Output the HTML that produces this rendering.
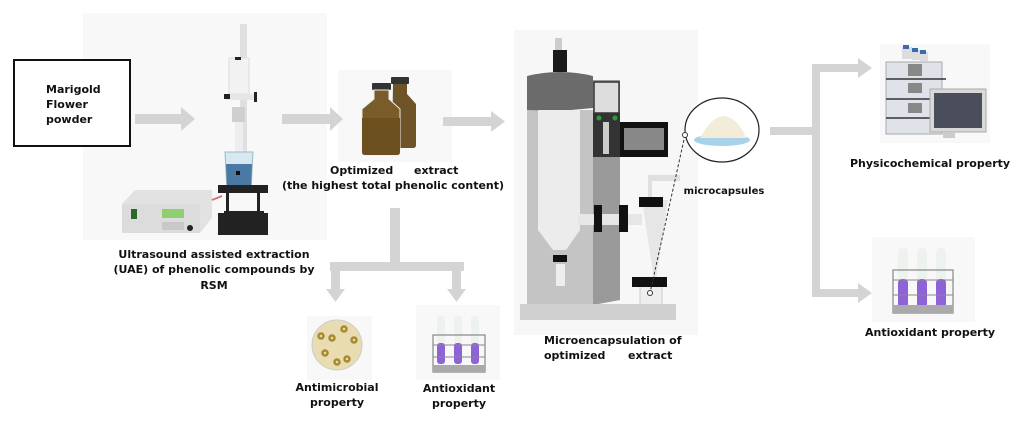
<!DOCTYPE html>
<html><head><meta charset="utf-8"><style>
html,body{margin:0;padding:0;background:#fff;}
svg{display:block;}
text{font-family:"DejaVu Sans","Liberation Sans",sans-serif;font-weight:bold;fill:#111;}
</style></head><body>
<svg width="1024" height="439" viewBox="0 0 1024 439" xmlns="http://www.w3.org/2000/svg">
<rect width="1024" height="439" fill="#fff"/>
<!-- panels -->
<rect x="83" y="13" width="244" height="227" fill="#f8f8f8"/>
<rect x="338" y="70" width="114" height="92" fill="#f8f8f8"/>
<rect x="514" y="30" width="184" height="305" fill="#f7f7f7"/>
<rect x="880" y="44" width="110" height="99" fill="#f8f8f8"/>
<rect x="872" y="237" width="103" height="85" fill="#f8f8f8"/>
<rect x="307" y="316" width="65" height="64" fill="#f8f8f8"/>
<rect x="416" y="305" width="84" height="75" fill="#f8f8f8"/>

<!-- box -->
<rect x="14" y="60" width="116" height="86" fill="#fff" stroke="#111" stroke-width="2"/>
<text x="46" y="93" font-size="11">Marigold</text>
<text x="46" y="108" font-size="11">Flower</text>
<text x="46" y="123" font-size="11">powder</text>

<!-- arrows -->
<g fill="#d4d4d4">
<path d="M135 114H181V107L195 119L181 131V124H135Z"/>
<path d="M282 114H330V107L343 119L330 131V124H282Z"/>
<path d="M443 117H491V111L505 121.5L491 132V126H443Z"/>
<rect x="390" y="208" width="10" height="60"/>
<rect x="330" y="262" width="134" height="9"/>
<rect x="331" y="262" width="9" height="30"/>
<path d="M326 289H345L335.5 302Z"/>
<rect x="452" y="262" width="9" height="30"/>
<path d="M447 289H466L456.5 302Z"/>
<rect x="770" y="127" width="48" height="8"/>
<rect x="812" y="64" width="8" height="233"/>
<rect x="812" y="64" width="48" height="8"/>
<path d="M858 58L872 68L858 78Z"/>
<rect x="812" y="289" width="48" height="8"/>
<path d="M858 283L872 293L858 303Z"/>
</g>

<!-- ultrasound -->
<rect x="240" y="24" width="7" height="130" fill="#e0e0e0"/>
<rect x="229" y="58" width="20" height="36" fill="#f2f2f2" stroke="#ddd"/>
<rect x="235" y="57" width="6" height="3" fill="#222"/>
<rect x="226" y="94" width="28" height="6" fill="#e6e6e6"/>
<rect x="224" y="94" width="6" height="5" fill="#222"/>
<rect x="254" y="92" width="3" height="10" fill="#222"/>
<rect x="232" y="107" width="13" height="15" fill="#cfcfcf"/>
<rect x="235" y="122" width="8" height="50" fill="#eee"/>
<path d="M225 152H253L251 190H227Z" fill="#d8e8f2" stroke="#9bb" stroke-width="1"/>
<path d="M226 164H252L251 189H227Z" fill="#4b79a6"/>
<rect x="236" y="171" width="4" height="4" fill="#111"/>
<rect x="218" y="185" width="50" height="8" fill="#222"/>
<rect x="226" y="193" width="3" height="20" fill="#222"/><rect x="257" y="193" width="3" height="20" fill="#222"/>
<rect x="224" y="211" width="40" height="3" fill="#222"/>
<rect x="218" y="213" width="50" height="22" fill="#222"/>
<path d="M122 204L135 190H212V218L200 233H122Z" fill="#e2e2e2"/>
<rect x="122" y="204" width="78" height="29" fill="#dcdcdc"/>
<rect x="131" y="209" width="6" height="10" fill="#2a6a2a"/>
<rect x="162" y="209" width="22" height="9" fill="#8fcf6f"/>
<rect x="162" y="222" width="22" height="8" fill="#c8c8c8"/>
<circle cx="190" cy="228" r="3" fill="#222"/>
<path d="M212 200L222 196" stroke="#c77" stroke-width="2"/>
<text x="214" y="258" font-size="11" text-anchor="middle">Ultrasound assisted extraction</text>
<text x="214" y="273" font-size="11" text-anchor="middle">(UAE) of phenolic compounds by</text>
<text x="214" y="289" font-size="11" text-anchor="middle">RSM</text>

<!-- bottles -->
<rect x="391" y="77" width="18" height="7" rx="1" fill="#333"/>
<path d="M393 84H407V94L416 104V145Q416 148 413 148H392Z" fill="#6e5426"/>
<rect x="372" y="83" width="19" height="7" rx="1" fill="#333"/>
<path d="M374 90H389V99L400 109V152Q400 155 397 155H365Q362 155 362 152V109L374 99Z" fill="#7a5b2a" stroke="#eee" stroke-width="1"/>
<path d="M362 118H400V152Q400 155 397 155H365Q362 155 362 152Z" fill="#6d5020"/>
<text x="330" y="174" font-size="11">Optimized</text>
<text x="414" y="174" font-size="11">extract</text>
<text x="393" y="189" font-size="11" text-anchor="middle">(the highest total phenolic content)</text>

<!-- petri -->
<circle cx="337" cy="345" r="25" fill="#e8dcb0" stroke="#ccc"/>
<g fill="none" stroke="#a88a30" stroke-width="2.5">
<circle cx="321" cy="336" r="2.5"/><circle cx="332" cy="338" r="2.5"/><circle cx="344" cy="329" r="2.5"/>
<circle cx="354" cy="340" r="2.5"/><circle cx="325" cy="353" r="2.5"/><circle cx="337" cy="362" r="2.5"/><circle cx="347" cy="359" r="2.5"/>
</g>
<text x="337" y="391" font-size="11" text-anchor="middle">Antimicrobial</text>
<text x="337" y="406" font-size="11" text-anchor="middle">property</text>

<!-- tubes small -->
<g>
<rect x="437" y="316" width="8" height="48" rx="3" fill="#eef2ee"/><rect x="454" y="316" width="8" height="48" rx="3" fill="#eef2ee"/><rect x="471" y="316" width="8" height="48" rx="3" fill="#eef2ee"/>
<rect x="437" y="343" width="8" height="21" rx="3" fill="#8e62d8"/><rect x="454" y="343" width="8" height="21" rx="3" fill="#8e62d8"/><rect x="471" y="343" width="8" height="21" rx="3" fill="#8e62d8"/>
<rect x="433" y="335" width="52" height="37" fill="none" stroke="#888" stroke-width="1.2"/>
<path d="M433 345H485M433 357H485" stroke="#888"/>
<rect x="433" y="365" width="52" height="7" fill="#aaa"/>
</g>
<text x="459" y="392" font-size="11" text-anchor="middle">Antioxidant</text>
<text x="459" y="407" font-size="11" text-anchor="middle">property</text>

<!-- spray dryer -->
<rect x="555" y="38" width="7" height="14" fill="#ccc"/>
<rect x="553" y="50" width="14" height="22" fill="#1a1a1a"/>
<rect x="527" y="110" width="68" height="195" fill="#c4c4c4"/>
<path d="M527 76Q560 68 593 76V108L560 111L527 110Z" fill="#6b6b6b"/>
<path d="M538 110H580V230L566 250H553L538 230Z" fill="#ececec"/>
<rect x="553" y="255" width="14" height="7" fill="#111"/>
<rect x="556" y="264" width="9" height="22" fill="#eee"/>
<path d="M593 80H620V300L593 305Z" fill="#9a9a9a"/>
<rect x="594" y="82" width="25" height="31" fill="#ddd" stroke="#333" stroke-width="1.5"/>
<rect x="593" y="113" width="27" height="44" fill="#333"/>
<circle cx="599" cy="118" r="2.5" fill="#2c9a3c"/><circle cx="615" cy="118" r="2.5" fill="#2c9a3c"/>
<rect x="603" y="122" width="6" height="32" fill="#ccc"/>
<rect x="620" y="122" width="48" height="35" fill="#111"/>
<rect x="624" y="128" width="40" height="22" fill="#888"/>
<rect x="578" y="214" width="64" height="11" fill="#e6e6e6"/>
<rect x="594" y="205" width="8" height="27" fill="#111"/><rect x="619" y="205" width="9" height="27" fill="#111"/>
<rect x="648" y="175" width="4" height="25" fill="#e0e0e0"/><rect x="650" y="175" width="30" height="6" fill="#e0e0e0"/>
<path d="M642 200H668L656 280H654Z" fill="#e6e6e6"/>
<rect x="639" y="197" width="24" height="10" fill="#111"/>
<rect x="640" y="285" width="22" height="21" fill="#eee" stroke="#ccc"/>
<rect x="632" y="277" width="35" height="10" fill="#111"/>
<rect x="520" y="304" width="156" height="16" fill="#d0d0d0"/>
<text x="544" y="344" font-size="11">Microencapsulation of</text>
<text x="544" y="359" font-size="11">optimized</text>
<text x="628" y="359" font-size="11">extract</text>

<!-- microcapsules -->
<ellipse cx="722" cy="130" rx="37" ry="32" fill="#fff" stroke="#222" stroke-width="1.2"/>
<ellipse cx="722" cy="140" rx="28" ry="6" fill="#a8d2e8"/>
<path d="M700 138Q712 116 724 116Q738 118 746 138Z" fill="#f2ecd8"/>
<line x1="685" y1="135" x2="650" y2="293" stroke="#333" stroke-dasharray="3,2"/>
<circle cx="685" cy="135" r="2.5" fill="#fff" stroke="#333"/>
<circle cx="650" cy="293" r="2.5" fill="#fff" stroke="#333"/>
<text x="724" y="194" font-size="10" text-anchor="middle">microcapsules</text>

<!-- HPLC -->
<rect x="902" y="47" width="10" height="12" fill="#ddd"/><rect x="912" y="50" width="8" height="10" fill="#ddd"/><rect x="920" y="52" width="8" height="9" fill="#ddd"/>
<rect x="903" y="45" width="6" height="4" fill="#3a6ab0"/><rect x="912" y="48" width="6" height="4" fill="#3a6ab0"/><rect x="920" y="50" width="6" height="4" fill="#3a6ab0"/>
<rect x="886" y="62" width="56" height="72" fill="#dfe2e8" stroke="#aaa"/>
<path d="M886 79H946M886 99H946M886 118H946" stroke="#333" stroke-width="1.5"/>
<rect x="908" y="64" width="14" height="12" fill="#888"/><rect x="908" y="83" width="14" height="10" fill="#888"/><rect x="908" y="103" width="14" height="10" fill="#888"/>
<rect x="930" y="89" width="56" height="43" fill="#d8d8d8" stroke="#aaa"/>
<rect x="934" y="93" width="48" height="35" fill="#4a4e5a"/>
<rect x="943" y="132" width="12" height="6" fill="#ccc"/>
<text x="930" y="167" font-size="11" text-anchor="middle">Physicochemical property</text>

<!-- tubes large -->
<g>
<rect x="898" y="248" width="10" height="60" rx="4" fill="#eef2ee"/><rect x="917" y="248" width="10" height="60" rx="4" fill="#eef2ee"/><rect x="936" y="248" width="10" height="60" rx="4" fill="#eef2ee"/>
<rect x="898" y="279" width="10" height="29" rx="4" fill="#8e62d8"/><rect x="917" y="279" width="10" height="29" rx="4" fill="#8e62d8"/><rect x="936" y="279" width="10" height="29" rx="4" fill="#8e62d8"/>
<rect x="893" y="270" width="60" height="43" fill="none" stroke="#888" stroke-width="1.2"/>
<path d="M893 280H953M893 295H953" stroke="#888"/>
<rect x="893" y="305" width="60" height="8" fill="#aaa"/>
</g>
<text x="930" y="336" font-size="11" text-anchor="middle">Antioxidant property</text>
</svg>
</body></html>
